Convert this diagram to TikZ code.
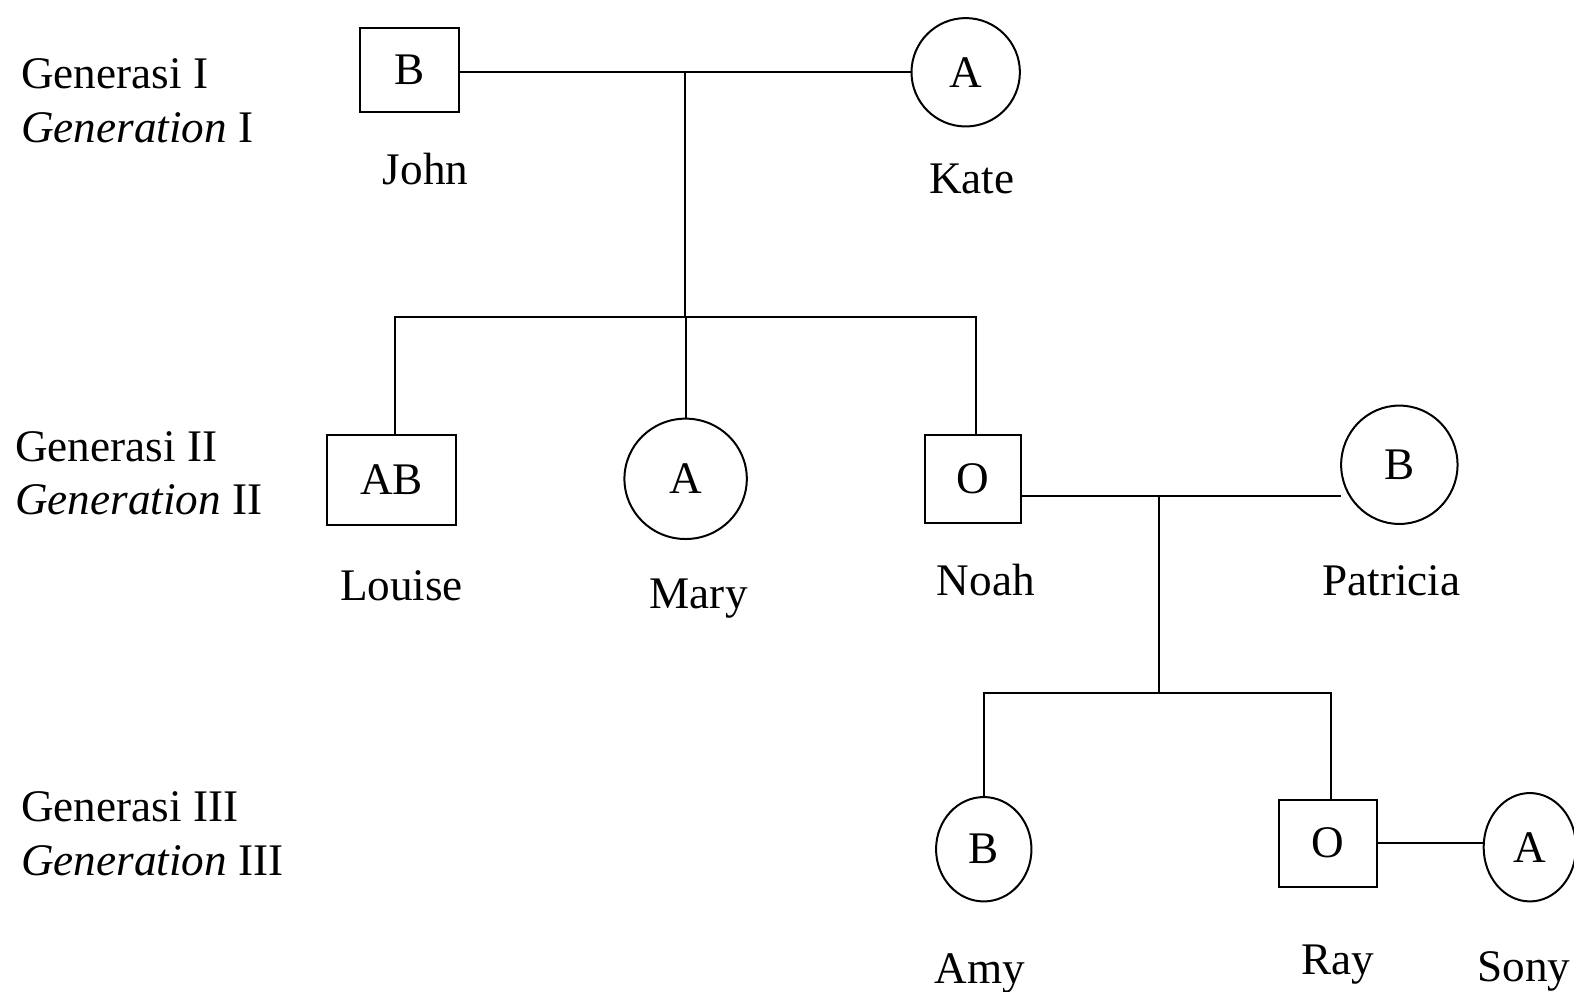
\documentclass[tikz,border=0pt]{standalone}
\usepackage{fontspec}
\setmainfont{Liberation Serif}
\usetikzlibrary{shapes.geometric}
\begin{document}
\begin{tikzpicture}[x=0.502pt,y=-0.502pt,
  every node/.style={font=\fontsize{22.6}{27}\selectfont},
  male/.style={draw,rectangle,line width=1pt,inner sep=0pt,outer sep=0pt},
  female/.style={draw,ellipse,line width=1pt,inner sep=0pt,outer sep=0pt},
  personlbl/.style={anchor=base},
  genlbl/.style={anchor=base west},
  link/.style={line width=1pt}]
\useasboundingbox (0,0) rectangle (1568,988);

% generation captions
\node[genlbl] (g1a) at (14,88) {Generasi I};
\node[genlbl] (g1b) at (14,142) {\textit{Generation} I};
\node[genlbl] (g2a) at (8,460) {Generasi II};
\node[genlbl] (g2b) at (8,513) {\textit{Generation} II};
\node[genlbl] (g3a) at (14,818) {Generasi III};
\node[genlbl] (g3b) at (14,872) {\textit{Generation} III};

% generation I
\node[male,minimum width=49.2pt,minimum height=42.2pt] (john) at (408,70) {B};
\node[female,minimum width=54.2pt,minimum height=54.2pt] (kate) at (962,72) {\raisebox{-1.5pt}{A}};
\node[personlbl] (johnl) at (424,184) {John};
\node[personlbl] (katel) at (968,193) {Kate};

% generation II
\node[male,minimum width=64.8pt,minimum height=45.2pt] (louise) at (390,478) {AB};
\node[female,minimum width=61.2pt,minimum height=60.2pt] (mary) at (683,477) {A};
\node[male,minimum width=48.2pt,minimum height=44.2pt] (noah) at (969,477) {O};
\node[female,minimum width=58.2pt,minimum height=59.2pt] (patricia) at (1394,463) {B};
\node[personlbl] (louisel) at (400,598) {Louise};
\node[personlbl] (maryl) at (696,606) {Mary};
\node[personlbl] (noahl) at (982,593) {Noah};
\node[personlbl] (patricial) at (1386,593) {Patricia};

% generation III
\node[female,minimum width=47.7pt,minimum height=52.2pt] (amy) at (980,846) {B};
\node[male,minimum width=49.2pt,minimum height=43.7pt] (ray) at (1323,840) {O};
\node[female,minimum width=46.2pt,minimum height=54.2pt] (sony) at (1524,844) {A};
\node[personlbl] (amyl) at (976,980) {Amy};
\node[personlbl] (rayl) at (1333,971) {Ray};
\node[personlbl] (sonyl) at (1518,978) {Sony};

% couple and sibship points
\coordinate (m1) at (682,72);
\coordinate (s1) at (682,316);
\coordinate (m2) at (1155,494);
\coordinate (s2) at (1155,690);

% attachment points on the children
\coordinate (louisetop) at ([xshift=2pt]louise.north);
\coordinate (noahtop) at ([xshift=1.5pt]noah.north);
\coordinate (raytop) at ([xshift=1.5pt]ray.north);

% John x Kate and their children
\draw[link] (john.east |- m1) -- (kate.west |- m1);
\draw[link] (m1) -- (s1);
\draw[link] (louisetop) |- (s1) -| (noahtop);
\draw[link] (mary.north) -- (mary.north |- s1);

% Noah x Patricia and their children
\draw[link] (noah.east |- m2) -- (patricia.west |- m2);
\draw[link] (m2) -- (s2);
\draw[link] (amy.north) |- (s2) -| (raytop);

% Ray x Sony
\draw[link] (ray.east) -- (ray.east -| sony.west);
\end{tikzpicture}
\end{document}
